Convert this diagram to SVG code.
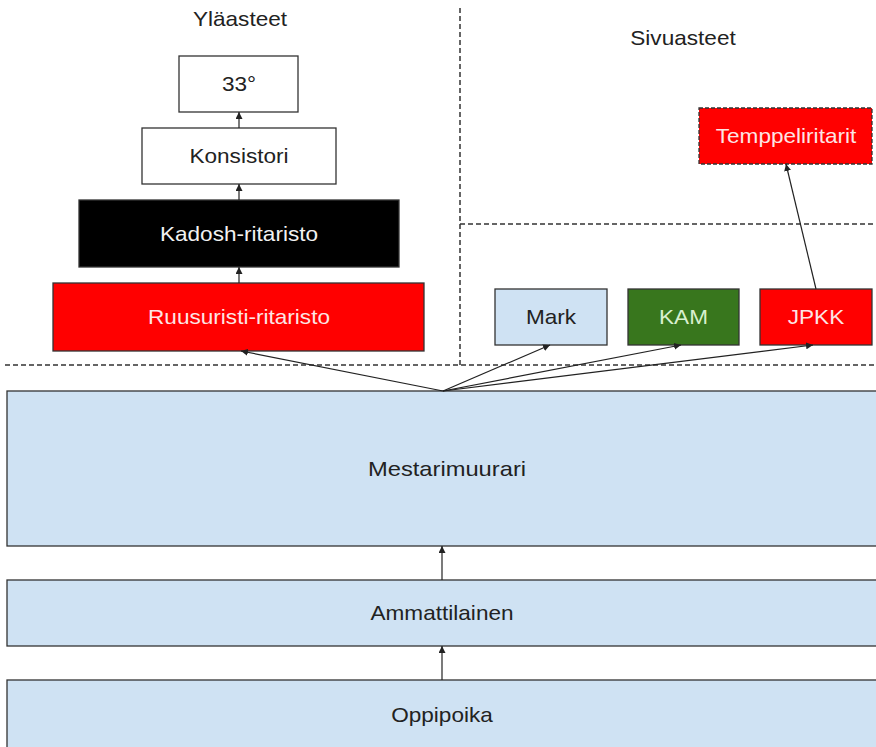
<svg xmlns="http://www.w3.org/2000/svg" width="876" height="747" viewBox="0 0 876 747">
<defs>
<style>
.t{font-family:"Liberation Sans",Arial,sans-serif;font-size:20px;text-anchor:middle}
.box{stroke:#333;stroke-width:1.3}
.dash{stroke:#333;stroke-width:1.5;stroke-dasharray:5 3;fill:none}
.con{stroke:#222;stroke-width:1.2;fill:none;marker-end:url(#ah)}
</style>
<marker id="ah" viewBox="0 0 10 10" refX="10" refY="5" markerWidth="7" markerHeight="7" orient="auto" markerUnits="userSpaceOnUse">
<path d="M0,0 L10,5 L0,10 z" fill="#222"/>
</marker>
</defs>
<rect width="876" height="747" fill="#fff"/>
<g id="dividers">
<line class="dash" x1="5" y1="365" x2="876" y2="365"/>
<line class="dash" x1="460" y1="8" x2="460" y2="365"/>
<line class="dash" x1="460" y1="224" x2="876" y2="224"/>
</g>
<g id="labels">
<text class="t" transform="translate(240,26) scale(1.13,1)" fill="#222">Yläasteet</text>
<text class="t" transform="translate(683,45) scale(1.13,1)" fill="#222">Sivuasteet</text>
</g>
<g id="n33">
<rect class="box" x="179" y="56" width="119" height="56" fill="#fff"/>
<text class="t" transform="translate(239,91) scale(1.13,1)" fill="#222">33°</text>
</g>
<g id="konsistori">
<rect class="box" x="142" y="128" width="194" height="56" fill="#fff"/>
<text class="t" transform="translate(239,163) scale(1.13,1)" fill="#222">Konsistori</text>
</g>
<g id="kadosh">
<rect class="box" x="79" y="200" width="320" height="67" fill="#000"/>
<text class="t" transform="translate(239,241) scale(1.13,1)" fill="#f2f2f2">Kadosh-ritaristo</text>
</g>
<g id="ruusuristi">
<rect class="box" x="53" y="283" width="371" height="68" fill="#ff0000"/>
<text class="t" transform="translate(239,324) scale(1.13,1)" fill="#fde4e4">Ruusuristi-ritaristo</text>
</g>
<g id="temppeliritarit">
<rect x="699" y="108" width="173" height="56" fill="#ff0000" stroke="#333" stroke-width="1.3" stroke-dasharray="4 2"/>
<text class="t" transform="translate(786,143) scale(1.13,1)" fill="#fde4e4">Temppeliritarit</text>
</g>
<g id="mark">
<rect class="box" x="495" y="289" width="112" height="56" fill="#cfe2f3"/>
<text class="t" transform="translate(551,324) scale(1.13,1)" fill="#222">Mark</text>
</g>
<g id="kam">
<rect class="box" x="628" y="289" width="111" height="56" fill="#38761d"/>
<text class="t" transform="translate(683.5,324) scale(1.13,1)" fill="#d9f0cf">KAM</text>
</g>
<g id="jpkk">
<rect class="box" x="760" y="289" width="112" height="56" fill="#ff0000"/>
<text class="t" transform="translate(816,324) scale(1.13,1)" fill="#fde4e4">JPKK</text>
</g>
<g id="mestarimuurari">
<rect class="box" x="7" y="391" width="870" height="155" fill="#cfe2f3"/>
<text class="t" transform="translate(447,476) scale(1.13,1)" fill="#222" style="font-size:21px">Mestarimuurari</text>
</g>
<g id="ammattilainen">
<rect class="box" x="7" y="580" width="870" height="66" fill="#cfe2f3"/>
<text class="t" transform="translate(442,620) scale(1.13,1)" fill="#222">Ammattilainen</text>
</g>
<g id="oppipoika">
<rect class="box" x="7" y="680" width="870" height="70" fill="#cfe2f3"/>
<text class="t" transform="translate(442,722) scale(1.13,1)" fill="#222">Oppipoika</text>
</g>
<g id="connectors">
<line class="con" x1="239" y1="128" x2="239" y2="112"/>
<line class="con" x1="239" y1="200" x2="239" y2="184"/>
<line class="con" x1="239" y1="283" x2="239" y2="267"/>
<line class="con" x1="443" y1="391" x2="241" y2="351"/>
<line class="con" x1="443" y1="391" x2="550" y2="345"/>
<line class="con" x1="443" y1="391" x2="681" y2="345"/>
<line class="con" x1="443" y1="391" x2="813" y2="345"/>
<line class="con" x1="816" y1="289" x2="786" y2="164"/>
<line class="con" x1="442" y1="580" x2="442" y2="546"/>
<line class="con" x1="442" y1="680" x2="442" y2="646"/>
</g>
</svg>
